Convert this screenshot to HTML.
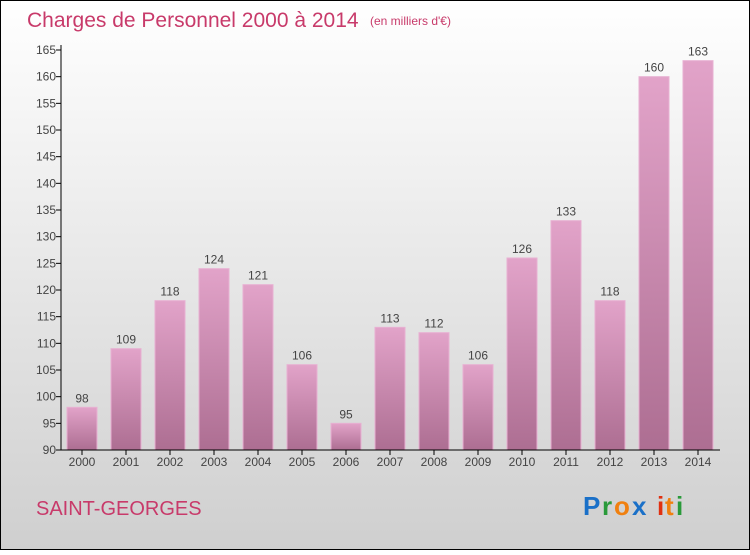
<!DOCTYPE html>
<html><head><meta charset="utf-8"><style>
body{margin:0}
#c{width:750px;height:550px;position:relative;font-family:"Liberation Sans",sans-serif}
</style></head><body>
<div id="c">
<svg width="750" height="550" xmlns="http://www.w3.org/2000/svg" id="svg">
<defs>
<linearGradient id="bg" x1="0" y1="0" x2="0" y2="1"><stop offset="0" stop-color="#ffffff"/><stop offset="1" stop-color="#cfcfcf"/></linearGradient>
<linearGradient id="bar" x1="0" y1="0" x2="0" y2="1"><stop offset="0" stop-color="#e2a3c9"/><stop offset="1" stop-color="#ad6e92"/></linearGradient>
</defs>
<rect x="0.5" y="0.5" width="749" height="549" fill="url(#bg)" stroke="#000"/>
<text x="27" y="27" font-size="21" fill="#c83a6a">Charges de Personnel 2000 à 2014</text>
<text x="370" y="25" font-size="12" fill="#c83a6a">(en milliers d'€)</text>
<text x="36" y="515" font-size="20" fill="#c83a6a">SAINT-GEORGES</text>
<g font-size="26" font-weight="bold">
<text x="583" y="515" fill="#1a70c8">P</text><text x="602" y="515" fill="#2a9a3a">r</text><text x="614" y="515" fill="#f08010">o</text><text x="632" y="515" fill="#1a70c8">x</text><text x="657" y="515" fill="#e03010">i</text><text x="665" y="515" fill="#f08010">t</text><text x="676" y="515" fill="#2a9a3a">i</text>
</g>
<g id="plot"></g>
</svg>
</div>
<script>
const categories=["2000","2001","2002","2003","2004","2005","2006","2007","2008","2009","2010","2011","2012","2013","2014"];
const values=[98,109,118,124,121,106,95,113,112,106,126,133,118,160,163];
const yTicks=[90,95,100,105,110,115,120,125,130,135,140,145,150,155,160,165];
const NS="http://www.w3.org/2000/svg";
const g=document.getElementById('plot');
const y=v=>450-(v-90)*400/75;
const x=i=>82+i*44;
function mk(t,a){const e=document.createElementNS(NS,t);for(const k in a)e.setAttribute(k,a[k]);g.appendChild(e);return e;}
yTicks.forEach(v=>{
 const l=mk('line',{x1:56,x2:61,y1:y(v),y2:y(v),stroke:'#000'});
 
 
 const t=mk('text',{x:56,y:y(v)+4,'text-anchor':'end','font-size':12,fill:'#444'});
 t.textContent=v;
 
 
});
categories.forEach((c,i)=>{
 const v=values[i];
 const r=mk('rect',{x:x(i)-15,y:y(v),width:30,height:450-y(v),fill:'url(#bar)',stroke:'#e8b0d2','stroke-width':1});
 
 
 const t=mk('text',{x:x(i),y:y(v)-5,'text-anchor':'middle','font-size':12,fill:'#444'});
 t.textContent=v;
 
 
 const tk=mk('line',{x1:x(i),x2:x(i),y1:450,y2:455,stroke:'#000'});
 
 
 const xl=mk('text',{x:x(i),y:466,'text-anchor':'middle','font-size':12,fill:'#444'});
 xl.textContent=c;
 
 
});
const ya=mk('line',{x1:61,x2:61,y1:45,y2:450,stroke:'#000'});


const xa=mk('line',{x1:61,x2:720,y1:450,y2:450,stroke:'#000'});


</script>
</body></html>
